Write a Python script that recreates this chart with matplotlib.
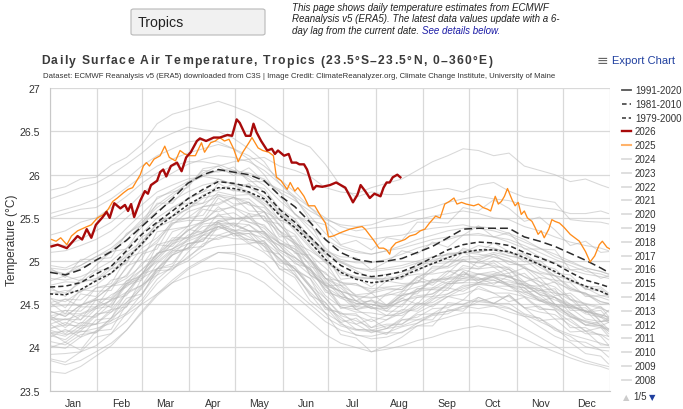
import matplotlib
matplotlib.use('Agg')
import matplotlib.pyplot as plt
from matplotlib.lines import Line2D
from matplotlib.patches import FancyBboxPatch
from matplotlib.font_manager import FontProperties

plt.rcParams['font.family'] = ['Liberation Sans', 'DejaVu Sans']

# ---------------- data ----------------
grid_days = [0, 10, 20, 30, 40, 50, 60, 70, 80, 90, 100, 110, 120, 130, 140, 150, 160, 170, 180,
             190, 200, 210, 220, 230, 240, 250, 260, 270, 280, 290, 300, 310, 320, 330, 340, 350, 360, 365]

clim_1991_2020 = [24.87, 24.84, 24.90, 25.01, 25.11, 25.24, 25.40, 25.56, 25.72, 25.90, 26.00, 26.06, 26.03,
                  26.00, 25.93, 25.76, 25.63, 25.45, 25.25, 25.10, 25.02, 24.99, 25.00, 25.03, 25.10, 25.17,
                  25.27, 25.37, 25.38, 25.38, 25.38, 25.28, 25.23, 25.17, 25.09, 25.01, 24.92, 24.87]
clim_1981_2010 = [24.70, 24.71, 24.75, 24.85, 24.94, 25.12, 25.31, 25.45, 25.58, 25.72, 25.83, 25.92, 25.90,
                  25.86, 25.80, 25.60, 25.45, 25.28, 25.10, 24.95, 24.86, 24.82, 24.84, 24.88, 24.95, 25.04,
                  25.13, 25.19, 25.22, 25.21, 25.18, 25.10, 25.04, 24.97, 24.87, 24.78, 24.73, 24.70]
clim_1979_2000 = [24.62, 24.61, 24.67, 24.77, 24.86, 25.02, 25.20, 25.39, 25.52, 25.65, 25.75, 25.85, 25.84,
                  25.80, 25.72, 25.53, 25.39, 25.22, 25.02, 24.87, 24.79, 24.75, 24.77, 24.82, 24.90, 24.97,
                  25.04, 25.10, 25.13, 25.13, 25.11, 25.04, 24.96, 24.88, 24.78, 24.71, 24.65, 24.61]

days_2026 = [1, 5, 11, 15, 18, 21, 24, 27, 30, 34, 37, 39, 42, 46, 49, 51, 53, 55, 59, 62, 64, 66, 70, 72,
             74, 76, 79, 83, 86, 89, 92, 96, 98, 102, 107, 111, 116, 119, 122, 124, 128, 131, 133, 135, 138,
             142, 145, 147, 149, 153, 156, 158, 161, 163, 166, 168, 170, 172, 174, 178, 183, 187, 193, 196,
             198, 201, 203, 206, 209, 212, 216, 218, 220, 222, 224, 227, 229]
temp_2026 = [25.17, 25.19, 25.15, 25.23, 25.29, 25.25, 25.37, 25.27, 25.42, 25.50, 25.57, 25.50, 25.67,
             25.61, 25.65, 25.58, 25.66, 25.51, 25.70, 25.81, 25.78, 25.88, 25.93, 26.03, 26.06, 25.98,
             26.10, 26.14, 26.04, 26.20, 26.26, 26.39, 26.42, 26.39, 26.43, 26.43, 26.46, 26.45, 26.64,
             26.60, 26.45, 26.45, 26.59, 26.49, 26.39, 26.28, 26.30, 26.24, 26.28, 26.22, 26.24, 26.14,
             26.14, 26.12, 26.12, 26.06, 25.95, 25.83, 25.87, 25.86, 25.88, 25.91, 25.85, 25.75, 25.68,
             25.77, 25.88, 25.81, 25.73, 25.78, 25.75, 25.85, 25.91, 25.91, 25.97, 26.00, 25.97]

days_2025 = [1, 4, 7, 11, 14, 18, 23, 27, 31, 35, 38, 41, 44, 48, 51, 54, 56, 59, 61, 63, 65, 68, 72, 75,
             78, 82, 85, 88, 91, 95, 99, 101, 105, 108, 111, 114, 117, 120, 123, 126, 130, 132, 134, 136,
             139, 143, 146, 148, 151, 155, 157, 160, 162, 166, 169, 173, 177, 180, 182, 185, 190, 193, 196,
             201, 204, 206, 209, 212, 215, 218, 220, 222, 223, 226, 229, 232, 235, 239, 242, 245, 248, 252,
             255, 258, 261, 264, 266, 269, 272, 277, 280, 283, 286, 288, 291, 293, 295, 297, 299, 302, 304,
             306, 308, 310, 312, 315, 317, 319, 321, 323, 326, 328, 330, 333, 336, 340, 343, 346, 350, 353,
             356, 359, 361, 364, 366]
temp_2025 = [25.25, 25.23, 25.27, 25.19, 25.29, 25.35, 25.39, 25.42, 25.50, 25.54, 25.60, 25.69, 25.73,
             25.79, 25.83, 25.85, 25.91, 26.00, 26.10, 26.14, 26.10, 26.18, 26.22, 26.33, 26.20, 26.16,
             26.28, 26.24, 26.22, 26.22, 26.37, 26.26, 26.37, 26.39, 26.43, 26.39, 26.41, 26.30, 26.15,
             26.26, 26.37, 26.43, 26.37, 26.31, 26.28, 26.26, 26.22, 25.97, 25.93, 25.83, 25.91, 25.81,
             25.85, 25.75, 25.64, 25.64, 25.52, 25.44, 25.28, 25.29, 25.33, 25.35, 25.37, 25.39, 25.40,
             25.37, 25.30, 25.23, 25.15, 25.15, 25.13, 25.08, 25.15, 25.21, 25.23, 25.25, 25.29, 25.31,
             25.35, 25.37, 25.44, 25.52, 25.50, 25.66, 25.69, 25.73, 25.66, 25.68, 25.66, 25.64, 25.66,
             25.62, 25.60, 25.58, 25.75, 25.66, 25.69, 25.75, 25.84, 25.71, 25.64, 25.68, 25.54, 25.58,
             25.50, 25.46, 25.39, 25.31, 25.35, 25.27, 25.37, 25.48, 25.46, 25.44, 25.39, 25.31, 25.27,
             25.23, 25.11, 24.99, 25.06, 25.19, 25.23, 25.16, 25.14]

gray_01 = [25.82, 25.86, 25.95, 25.97, 26.11, 26.20, 26.35, 26.59, 26.70, 26.75, 26.80, 26.85, 26.79, 26.72, 26.62, 26.48, 26.39, 26.32, 26.12, 25.87, 25.74, 25.80, 25.77, 25.77, 25.80, 25.82, 25.84, 25.80, 25.88, 25.91, 25.81, 25.74, 25.71, 25.68, 25.48, 25.46, 25.45, 25.43]
gray_02 = [24.88, 24.85, 24.95, 25.05, 25.12, 25.30, 25.45, 25.62, 25.75, 25.90, 26.02, 26.10, 26.15, 26.18, 26.20, 26.10, 26.05, 25.98, 25.85, 25.80, 25.78, 25.85, 25.90, 25.95, 26.05, 26.15, 26.22, 26.30, 26.28, 26.22, 26.25, 26.10, 26.05, 26.00, 25.92, 25.95, 25.88, 25.85]
gray_03 = [25.50, 25.55, 25.60, 25.62, 25.72, 25.85, 25.98, 26.10, 26.18, 26.25, 26.30, 26.35, 26.30, 26.22, 26.10, 25.95, 25.80, 25.62, 25.45, 25.32, 25.28, 25.25, 25.28, 25.30, 25.35, 25.38, 25.40, 25.42, 25.38, 25.35, 25.30, 25.22, 25.15, 25.05, 24.98, 24.92, 24.88, 24.85]
gray_04 = [25.72, 25.78, 25.85, 25.90, 26.00, 26.12, 26.25, 26.40, 26.48, 26.55, 26.52, 26.50, 26.42, 26.30, 26.15, 25.90, 25.72, 25.52, 25.32, 25.18, 25.12, 25.08, 25.12, 25.18, 25.25, 25.30, 25.35, 25.38, 25.40, 25.38, 25.32, 25.25, 25.15, 25.08, 25.00, 24.92, 24.88, 24.85]
gray_05 = [25.20, 25.18, 25.25, 25.35, 25.45, 25.60, 25.78, 25.92, 26.02, 26.12, 26.18, 26.22, 26.20, 26.15, 26.05, 25.90, 25.75, 25.62, 25.50, 25.40, 25.35, 25.38, 25.40, 25.42, 25.48, 25.52, 25.55, 25.58, 25.55, 25.50, 25.48, 25.40, 25.35, 25.28, 25.22, 25.18, 25.15, 25.12]
gray_06 = [25.55, 25.60, 25.65, 25.72, 25.82, 25.95, 26.10, 26.22, 26.30, 26.38, 26.40, 26.38, 26.30, 26.18, 26.00, 25.75, 25.55, 25.35, 25.15, 25.00, 24.92, 24.88, 24.90, 24.92, 24.98, 25.00, 25.02, 25.00, 24.98, 24.95, 24.90, 24.82, 24.72, 24.65, 24.55, 24.50, 24.45, 24.42]
gray_07 = [25.30, 25.35, 25.45, 25.50, 25.62, 25.75, 25.90, 26.02, 26.10, 26.15, 26.15, 26.12, 26.05, 25.95, 25.80, 25.55, 25.35, 25.15, 24.98, 24.88, 24.82, 24.80, 24.80, 24.82, 24.85, 24.85, 24.88, 24.90, 24.85, 24.82, 24.78, 24.72, 24.62, 24.55, 24.48, 24.42, 24.38, 24.35]
gray_08 = [24.95, 24.92, 25.00, 25.10, 25.20, 25.38, 25.55, 25.72, 25.82, 25.92, 26.00, 26.05, 26.02, 25.98, 25.88, 25.70, 25.55, 25.40, 25.25, 25.15, 25.10, 25.08, 25.12, 25.15, 25.20, 25.25, 25.28, 25.30, 25.32, 25.28, 25.22, 25.15, 25.05, 24.98, 24.90, 24.85, 24.82, 24.80]
gray_09 = [24.92, 24.90, 24.95, 25.05, 25.15, 25.30, 25.48, 25.65, 25.78, 25.90, 25.98, 26.05, 26.05, 26.02, 25.95, 25.80, 25.70, 25.58, 25.48, 25.42, 25.40, 25.42, 25.48, 25.52, 25.58, 25.62, 25.68, 25.72, 25.75, 25.72, 25.70, 25.65, 25.62, 25.60, 25.55, 25.55, 25.58, 25.55]
gray_10 = [24.90, 24.85, 24.92, 25.00, 25.10, 25.25, 25.42, 25.58, 25.70, 25.80, 25.88, 25.92, 25.90, 25.85, 25.75, 25.58, 25.42, 25.25, 25.08, 24.98, 24.92, 24.90, 24.92, 24.95, 25.00, 25.05, 25.08, 25.10, 25.08, 25.05, 25.00, 24.92, 24.85, 24.75, 24.68, 24.62, 24.58, 24.55]
gray_11 = [24.80, 24.78, 24.82, 24.90, 25.00, 25.15, 25.32, 25.50, 25.62, 25.72, 25.80, 25.85, 25.82, 25.78, 25.70, 25.55, 25.42, 25.28, 25.12, 25.02, 24.98, 24.98, 25.02, 25.08, 25.15, 25.20, 25.25, 25.30, 25.30, 25.28, 25.25, 25.18, 25.10, 25.02, 24.95, 24.88, 24.85, 24.82]
gray_12 = [24.35, 24.32, 24.38, 24.45, 24.55, 24.72, 24.90, 25.08, 25.22, 25.35, 25.45, 25.52, 25.50, 25.45, 25.38, 25.20, 25.05, 24.90, 24.75, 24.65, 24.60, 24.58, 24.60, 24.65, 24.70, 24.75, 24.80, 24.85, 24.85, 24.85, 24.82, 24.75, 24.68, 24.58, 24.48, 24.42, 24.38, 24.35]
gray_13 = [25.10, 25.12, 25.18, 25.25, 25.35, 25.50, 25.65, 25.80, 25.88, 25.95, 25.98, 25.95, 25.88, 25.78, 25.65, 25.42, 25.22, 25.02, 24.85, 24.75, 24.72, 24.68, 24.70, 24.72, 24.75, 24.78, 24.80, 24.82, 24.80, 24.78, 24.72, 24.62, 24.55, 24.45, 24.35, 24.30, 24.25, 24.22]
gray_14 = [23.85, 23.80, 23.85, 23.95, 24.05, 24.20, 24.40, 24.60, 24.75, 24.90, 25.00, 25.10, 25.10, 25.05, 24.98, 24.80, 24.65, 24.50, 24.35, 24.25, 24.20, 24.18, 24.22, 24.25, 24.32, 24.38, 24.42, 24.48, 24.50, 24.48, 24.45, 24.38, 24.30, 24.22, 24.15, 24.10, 24.05, 24.02]
gray_15 = [23.72, 23.70, 23.78, 23.90, 24.02, 24.20, 24.42, 24.62, 24.78, 24.92, 25.02, 25.10, 25.08, 25.02, 24.92, 24.75, 24.60, 24.45, 24.30, 24.20, 24.15, 24.10, 24.12, 24.18, 24.25, 24.30, 24.35, 24.40, 24.40, 24.38, 24.32, 24.22, 24.12, 24.02, 23.92, 23.85, 23.80, 23.78]
gray_16 = [24.20, 24.15, 24.18, 24.22, 24.28, 24.38, 24.50, 24.62, 24.75, 24.82, 24.88, 24.92, 24.90, 24.85, 24.75, 24.60, 24.45, 24.30, 24.15, 24.05, 24.00, 23.95, 23.98, 24.02, 24.08, 24.12, 24.18, 24.22, 24.25, 24.22, 24.18, 24.10, 24.02, 23.95, 23.88, 23.82, 23.78, 23.75]
gray_17 = [24.42, 24.36, 24.49, 24.55, 24.56, 24.74, 24.85, 25.09, 25.14, 25.25, 25.40, 25.43, 25.44, 25.35, 25.34, 25.13, 25.04, 24.92, 24.70, 24.59, 24.54, 24.45, 24.49, 24.60, 24.65, 24.67, 24.76, 24.78, 24.78, 24.83, 24.83, 24.72, 24.66, 24.63, 24.50, 24.41, 24.37, 24.31]
gray_18 = [24.17, 24.13, 24.25, 24.27, 24.41, 24.52, 24.72, 24.87, 25.07, 25.15, 25.30, 25.37, 25.42, 25.35, 25.34, 25.13, 25.04, 24.90, 24.67, 24.57, 24.51, 24.50, 24.47, 24.60, 24.65, 24.77, 24.82, 24.92, 24.91, 24.93, 24.93, 24.82, 24.76, 24.70, 24.56, 24.51, 24.47, 24.41]
gray_19 = [24.52, 24.56, 24.55, 24.69, 24.71, 24.92, 25.15, 25.27, 25.44, 25.50, 25.63, 25.67, 25.74, 25.65, 25.62, 25.41, 25.31, 25.07, 24.92, 24.75, 24.74, 24.65, 24.69, 24.67, 24.80, 24.92, 24.92, 25.00, 24.98, 25.05, 24.99, 24.94, 24.81, 24.78, 24.66, 24.63, 24.50, 24.51]
gray_20 = [24.32, 24.33, 24.32, 24.47, 24.54, 24.64, 24.85, 24.99, 25.14, 25.23, 25.30, 25.45, 25.36, 25.35, 25.22, 25.08, 24.91, 24.70, 24.52, 24.32, 24.27, 24.17, 24.22, 24.32, 24.35, 24.45, 24.46, 24.55, 24.53, 24.58, 24.59, 24.46, 24.41, 24.38, 24.26, 24.16, 24.15, 24.09]
gray_21 = [24.02, 23.99, 24.12, 24.19, 24.34, 24.47, 24.70, 24.91, 25.07, 25.25, 25.33, 25.47, 25.49, 25.50, 25.40, 25.25, 25.14, 25.02, 24.80, 24.72, 24.61, 24.63, 24.67, 24.67, 24.82, 24.87, 24.99, 25.02, 25.03, 25.08, 25.03, 24.92, 24.86, 24.83, 24.70, 24.61, 24.53, 24.51]
gray_22 = [24.22, 24.26, 24.25, 24.39, 24.41, 24.62, 24.72, 24.97, 25.12, 25.20, 25.25, 25.40, 25.32, 25.32, 25.27, 25.11, 24.99, 24.84, 24.60, 24.47, 24.44, 24.35, 24.32, 24.40, 24.50, 24.52, 24.62, 24.72, 24.73, 24.71, 24.66, 24.64, 24.58, 24.46, 24.38, 24.26, 24.23, 24.21]
gray_23 = [24.40, 24.43, 24.42, 24.57, 24.71, 24.84, 25.08, 25.24, 25.42, 25.57, 25.63, 25.80, 25.76, 25.77, 25.64, 25.48, 25.39, 25.17, 25.00, 24.90, 24.79, 24.80, 24.79, 24.79, 24.95, 25.05, 25.07, 25.10, 25.18, 25.15, 25.09, 25.09, 24.96, 24.91, 24.76, 24.71, 24.70, 24.63]
gray_24 = [24.14, 24.09, 24.22, 24.27, 24.31, 24.52, 24.68, 24.91, 25.07, 25.15, 25.33, 25.40, 25.44, 25.42, 25.30, 25.18, 25.01, 24.90, 24.67, 24.47, 24.41, 24.40, 24.37, 24.40, 24.45, 24.57, 24.59, 24.62, 24.68, 24.63, 24.63, 24.59, 24.46, 24.43, 24.30, 24.19, 24.15, 24.13]
gray_25 = [24.67, 24.63, 24.75, 24.80, 24.86, 25.07, 25.18, 25.39, 25.47, 25.62, 25.67, 25.75, 25.72, 25.72, 25.57, 25.35, 25.24, 25.02, 24.80, 24.69, 24.54, 24.53, 24.49, 24.57, 24.68, 24.69, 24.79, 24.80, 24.85, 24.88, 24.81, 24.76, 24.64, 24.58, 24.50, 24.39, 24.35, 24.33]
gray_26 = [24.27, 24.33, 24.27, 24.45, 24.48, 24.72, 24.78, 25.04, 25.24, 25.27, 25.43, 25.45, 25.49, 25.50, 25.34, 25.21, 25.11, 24.87, 24.72, 24.49, 24.47, 24.47, 24.42, 24.42, 24.58, 24.59, 24.74, 24.75, 24.85, 24.81, 24.73, 24.74, 24.61, 24.48, 24.46, 24.33, 24.30, 24.31]
gray_27 = [24.07, 24.03, 24.15, 24.17, 24.31, 24.40, 24.62, 24.84, 24.92, 25.00, 25.13, 25.17, 25.19, 25.20, 25.10, 24.95, 24.84, 24.62, 24.40, 24.29, 24.14, 24.13, 24.17, 24.17, 24.28, 24.39, 24.42, 24.45, 24.53, 24.51, 24.46, 24.36, 24.34, 24.23, 24.08, 24.06, 23.97, 23.96]
gray_28 = [24.47, 24.49, 24.49, 24.57, 24.71, 24.80, 24.95, 25.19, 25.24, 25.40, 25.45, 25.53, 25.56, 25.45, 25.42, 25.21, 25.11, 24.97, 24.72, 24.65, 24.59, 24.57, 24.62, 24.70, 24.75, 24.89, 24.94, 25.05, 25.05, 25.10, 25.06, 25.04, 24.93, 24.83, 24.78, 24.69, 24.60, 24.58]
gray_29 = [23.92, 23.93, 23.95, 24.12, 24.16, 24.40, 24.55, 24.79, 24.94, 25.03, 25.20, 25.27, 25.32, 25.25, 25.22, 25.01, 24.91, 24.72, 24.57, 24.39, 24.37, 24.30, 24.37, 24.37, 24.48, 24.59, 24.62, 24.70, 24.75, 24.71, 24.71, 24.59, 24.54, 24.50, 24.36, 24.26, 24.25, 24.19]
gray_30 = [24.37, 24.39, 24.39, 24.47, 24.61, 24.70, 24.85, 25.09, 25.14, 25.30, 25.35, 25.47, 25.42, 25.35, 25.32, 25.08, 24.91, 24.80, 24.57, 24.37, 24.31, 24.23, 24.27, 24.27, 24.38, 24.39, 24.49, 24.50, 24.55, 24.51, 24.51, 24.39, 24.34, 24.20, 24.13, 24.01, 23.97, 23.89]
gray_31 = [24.57, 24.53, 24.65, 24.72, 24.86, 24.99, 25.22, 25.44, 25.52, 25.73, 25.80, 25.95, 25.89, 25.88, 25.84, 25.61, 25.49, 25.27, 25.10, 24.99, 24.89, 24.80, 24.85, 24.87, 24.92, 25.02, 25.04, 25.13, 25.11, 25.13, 25.06, 25.02, 24.88, 24.83, 24.68, 24.63, 24.53, 24.51]
gray_32 = [24.17, 24.19, 24.19, 24.37, 24.44, 24.64, 24.85, 25.01, 25.20, 25.35, 25.47, 25.60, 25.62, 25.55, 25.52, 25.31, 25.21, 25.02, 24.80, 24.62, 24.51, 24.50, 24.47, 24.54, 24.58, 24.62, 24.74, 24.75, 24.75, 24.78, 24.71, 24.66, 24.54, 24.48, 24.40, 24.29, 24.25, 24.16]
gray_33 = [24.72, 24.76, 24.75, 24.89, 24.91, 25.10, 25.22, 25.44, 25.52, 25.60, 25.73, 25.77, 25.74, 25.68, 25.57, 25.35, 25.19, 25.00, 24.77, 24.59, 24.54, 24.45, 24.45, 24.54, 24.60, 24.62, 24.72, 24.80, 24.78, 24.81, 24.73, 24.69, 24.56, 24.50, 24.36, 24.31, 24.27, 24.19]
gray_34 = [23.87, 23.83, 23.95, 24.02, 24.16, 24.30, 24.52, 24.74, 24.90, 25.05, 25.17, 25.30, 25.26, 25.25, 25.20, 25.03, 24.91, 24.70, 24.47, 24.35, 24.21, 24.20, 24.17, 24.24, 24.28, 24.37, 24.39, 24.48, 24.45, 24.48, 24.41, 24.36, 24.24, 24.13, 24.06, 23.93, 23.90, 23.81]
gray_35 = [24.42, 24.36, 24.49, 24.55, 24.58, 24.77, 24.90, 25.04, 25.20, 25.27, 25.33, 25.40, 25.36, 25.28, 25.17, 25.03, 24.84, 24.64, 24.47, 24.27, 24.21, 24.20, 24.25, 24.27, 24.40, 24.49, 24.59, 24.68, 24.73, 24.75, 24.76, 24.72, 24.61, 24.58, 24.46, 24.43, 24.35, 24.29]
gray_36 = [24.62, 24.66, 24.64, 24.79, 24.94, 25.05, 25.18, 25.44, 25.52, 25.60, 25.77, 25.82, 25.89, 25.80, 25.67, 25.56, 25.37, 25.27, 25.02, 24.84, 24.81, 24.80, 24.77, 24.85, 24.88, 24.99, 25.09, 25.10, 25.10, 25.15, 25.09, 25.07, 24.96, 24.83, 24.80, 24.68, 24.65, 24.59]
gray_37 = [24.32, 24.43, 24.32, 24.55, 24.46, 24.77, 24.82, 25.19, 25.17, 25.37, 25.33, 25.55, 25.39, 25.55, 25.32, 25.21, 25.17, 24.84, 24.74, 24.45, 24.49, 24.55, 24.42, 24.57, 24.50, 24.69, 24.69, 24.88, 24.75, 24.83, 24.86, 24.64, 24.66, 24.68, 24.43, 24.43, 24.25, 24.29]
gray_38 = [24.52, 24.39, 24.62, 24.59, 24.78, 24.82, 25.08, 25.14, 25.44, 25.47, 25.47, 25.73, 25.62, 25.50, 25.57, 25.28, 25.29, 25.02, 24.72, 24.72, 24.54, 24.63, 24.49, 24.64, 24.82, 24.75, 24.89, 24.82, 25.01, 24.93, 24.81, 24.86, 24.71, 24.76, 24.56, 24.41, 24.47, 24.36]
gray_39 = [24.12, 24.21, 24.12, 24.32, 24.34, 24.64, 24.72, 24.84, 25.10, 25.15, 25.17, 25.40, 25.32, 25.20, 25.24, 24.98, 24.94, 24.72, 24.44, 24.41, 24.27, 24.33, 24.22, 24.34, 24.52, 24.47, 24.59, 24.55, 24.71, 24.63, 24.53, 24.58, 24.44, 24.44, 24.23, 24.23, 24.13, 24.03]
gray_40 = [24.37, 24.26, 24.47, 24.47, 24.71, 24.74, 24.98, 25.07, 25.34, 25.40, 25.60, 25.57, 25.64, 25.68, 25.47, 25.35, 25.09, 25.07, 24.80, 24.77, 24.59, 24.47, 24.62, 24.60, 24.78, 24.72, 24.86, 25.02, 24.93, 24.98, 24.86, 24.92, 24.76, 24.60, 24.63, 24.49, 24.35, 24.43]
gray_41 = [24.27, 24.16, 24.29, 24.27, 24.44, 24.47, 24.80, 24.91, 24.94, 25.20, 25.23, 25.45, 25.29, 25.32, 25.12, 25.08, 24.87, 24.60, 24.52, 24.29, 24.34, 24.20, 24.15, 24.32, 24.32, 24.32, 24.52, 24.50, 24.58, 24.51, 24.61, 24.46, 24.31, 24.33, 24.18, 24.19, 24.03, 24.03]
gray_42 = [24.00, 24.06, 23.97, 24.19, 24.21, 24.50, 24.60, 24.91, 24.97, 25.20, 25.23, 25.43, 25.34, 25.42, 25.27, 25.18, 24.97, 24.92, 24.64, 24.59, 24.44, 24.50, 24.45, 24.62, 24.62, 24.79, 24.79, 24.95, 24.91, 25.01, 24.91, 24.76, 24.81, 24.63, 24.60, 24.41, 24.43, 24.33]
gray_43 = [24.47, 24.56, 24.47, 24.69, 24.74, 25.04, 25.10, 25.21, 25.47, 25.50, 25.53, 25.77, 25.66, 25.68, 25.47, 25.43, 25.19, 24.94, 24.87, 24.65, 24.47, 24.55, 24.49, 24.47, 24.68, 24.67, 24.66, 24.85, 24.81, 24.73, 24.83, 24.69, 24.54, 24.58, 24.40, 24.26, 24.30, 24.21]
gray_44 = [24.17, 24.06, 24.19, 24.17, 24.34, 24.57, 24.62, 24.89, 24.90, 25.10, 25.27, 25.25, 25.32, 25.35, 25.17, 24.91, 24.89, 24.80, 24.47, 24.39, 24.39, 24.23, 24.32, 24.44, 24.42, 24.55, 24.69, 24.65, 24.75, 24.83, 24.71, 24.69, 24.68, 24.50, 24.46, 24.46, 24.30, 24.31]
gray_45 = [24.77, 24.83, 24.77, 24.95, 25.11, 25.14, 25.40, 25.67, 25.67, 25.87, 26.05, 26.03, 26.09, 25.92, 25.92, 25.81, 25.54, 25.44, 25.12, 25.05, 25.04, 24.90, 24.99, 25.12, 25.08, 25.22, 25.16, 25.30, 25.41, 25.28, 25.33, 25.14, 25.14, 25.13, 24.90, 24.91, 24.80, 24.83]
gray_46 = [24.92, 24.81, 25.02, 25.02, 25.04, 25.32, 25.42, 25.74, 25.80, 25.85, 26.07, 26.10, 25.99, 26.08, 25.92, 25.83, 25.74, 25.47, 25.42, 25.19, 25.24, 25.13, 25.27, 25.24, 25.45, 25.45, 25.44, 25.62, 25.58, 25.71, 25.61, 25.46, 25.51, 25.36, 25.18, 25.23, 25.10, 25.11]
gray_47 = [24.70, 24.59, 24.79, 24.77, 24.91, 24.97, 25.28, 25.37, 25.62, 25.67, 25.67, 25.90, 25.81, 25.90, 25.72, 25.47, 25.47, 25.20, 25.07, 24.79, 24.81, 24.70, 24.82, 24.80, 24.98, 24.97, 24.98, 25.15, 25.10, 25.21, 25.11, 24.99, 25.01, 24.86, 24.84, 24.67, 24.68, 24.61]
gray_48 = [24.22, 24.29, 24.22, 24.39, 24.56, 24.60, 24.85, 24.91, 25.12, 25.13, 25.30, 25.30, 25.36, 25.22, 25.20, 24.91, 24.81, 24.54, 24.40, 24.15, 24.11, 23.95, 24.02, 24.12, 24.25, 24.25, 24.44, 24.42, 24.58, 24.51, 24.61, 24.46, 24.48, 24.33, 24.33, 24.19, 24.23, 24.13]
gray_49 = [24.57, 24.46, 24.67, 24.65, 24.66, 24.94, 25.02, 25.34, 25.37, 25.40, 25.63, 25.65, 25.74, 25.58, 25.57, 25.48, 25.21, 25.12, 25.00, 24.72, 24.74, 24.63, 24.77, 24.74, 24.75, 24.94, 24.94, 25.10, 25.01, 25.08, 24.96, 24.96, 24.98, 24.78, 24.75, 24.59, 24.60, 24.61]
gray_50 = [24.34, 24.23, 24.37, 24.35, 24.51, 24.74, 24.80, 25.07, 25.27, 25.27, 25.45, 25.63, 25.49, 25.52, 25.52, 25.21, 25.14, 24.84, 24.72, 24.65, 24.44, 24.47, 24.37, 24.50, 24.65, 24.79, 24.74, 24.88, 24.78, 24.85, 24.91, 24.72, 24.71, 24.50, 24.48, 24.49, 24.30, 24.33]

gray_years = [gray_01, gray_02, gray_03, gray_04, gray_05, gray_06, gray_07, gray_08, gray_09, gray_10,
              gray_11, gray_12, gray_13, gray_14, gray_15, gray_16, gray_17, gray_18, gray_19, gray_20,
              gray_21, gray_22, gray_23, gray_24, gray_25, gray_26, gray_27, gray_28, gray_29, gray_30,
              gray_31, gray_32, gray_33, gray_34, gray_35, gray_36, gray_37, gray_38, gray_39, gray_40,
              gray_41, gray_42, gray_43, gray_44, gray_45, gray_46, gray_47, gray_48, gray_49, gray_50]

month_labels = ['Jan', 'Feb', 'Mar', 'Apr', 'May', 'Jun', 'Jul', 'Aug', 'Sep', 'Oct', 'Nov', 'Dec']
month_starts = [0, 31, 60, 91, 121, 152, 182, 213, 244, 274, 305, 335, 366]
y_ticks = [23.5, 24, 24.5, 25, 25.5, 26, 26.5, 27]
y_tick_labels = ['23.5', '24', '24.5', '25', '25.5', '26', '26.5', '27']
legend_clim = ['1991-2020', '1981-2010', '1979-2000']
legend_years = ['2026', '2025', '2024', '2023', '2022', '2021', '2020', '2019', '2018', '2017', '2016',
                '2015', '2014', '2013', '2012', '2011', '2010', '2009', '2008']

# ---------------- figure ----------------
W, H = 683, 410
fig = plt.figure(figsize=(W / 100, H / 100), dpi=100)
fig.patch.set_facecolor('white')

def fx(px):
    return px / W

def fy(py):
    return 1 - py / H

ax = fig.add_axes([fx(50), fy(391.7), fx(610) - fx(50), fy(89.3) - fy(391.7)])
ax.set_xlim(0, 366)
ax.set_ylim(23.5, 27)

GRID = '#d9d9d9'
for yv in y_ticks:
    ax.axhline(yv, color=GRID, lw=0.9, zorder=0)
for d in month_starts:
    ax.axvline(d, color=GRID, lw=0.9, zorder=0)

for series in gray_years:
    ax.plot(grid_days, series, color='#b8b8b8', lw=0.75, alpha=0.55, zorder=1)

ax.plot(grid_days, clim_1979_2000, color='#2b2b2b', lw=1.1, dashes=(2.0, 1.4), zorder=3)
ax.plot(grid_days, clim_1981_2010, color='#2b2b2b', lw=1.1, dashes=(3.4, 2.0), zorder=3)
ax.plot(grid_days, clim_1991_2020, color='#2b2b2b', lw=1.1, dashes=(5.2, 2.6), zorder=3)
ax.plot(days_2025, temp_2025, color='#ff8c1a', lw=0.95, zorder=4)
ax.plot(days_2026, temp_2026, color='#a80a0a', lw=1.7, zorder=5)

for s in ['top', 'right']:
    ax.spines[s].set_visible(False)
ax.spines['left'].set_color('#c8c8c8')
ax.spines['bottom'].set_color('#c8c8c8')

ax.set_yticks(y_ticks)
ax.set_yticklabels(y_tick_labels)
ax.set_xticks(month_starts)
ax.set_xticklabels([''] * len(month_starts))
ax.set_xticks([m + 15.5 for m in month_starts[:-1]], minor=True)
ax.set_xticklabels(month_labels, minor=True)
ax.tick_params(axis='both', which='both', length=0, colors='#333333', labelsize=7.6)
ax.tick_params(axis='y', pad=7)
ax.tick_params(axis='x', which='minor', pad=5)
fig.text(fx(12), fy(240), 'Temperature (°C)', rotation=90, color='#333333', fontsize=8.6,
         va='center', ha='center')

# ---------------- legend ----------------
leg_styles = [
    dict(color='#555555', lw=1.3),
    dict(color='#333333', lw=1.1, dashes=(3.0, 2.0, 1.0, 2.0)),
    dict(color='#333333', lw=1.1, dashes=(2.6, 1.8)),
    dict(color='#a80a0a', lw=1.7),
    dict(color='#ffb36b', lw=1.5),
]
labels = legend_clim + legend_years
for i, lab in enumerate(labels):
    ypx = 91 + i * 13.8
    style = leg_styles[i] if i < len(leg_styles) else dict(color='#dcdcdc', lw=1.3)
    fig.add_artist(Line2D([fx(622), fx(631)], [fy(ypx), fy(ypx)], transform=fig.transFigure, **style))
    fig.text(fx(635), fy(ypx), lab, fontsize=7.0, color='#333333', va='center', ha='left')

fig.text(fx(626), fy(397.5), '\u25B2', fontsize=6, color='#cccccc', va='center', ha='center',
         family=['DejaVu Sans'])
fig.text(fx(633), fy(397), '1/5', fontsize=7.0, color='#333333', va='center', ha='left')
fig.text(fx(652), fy(397.5), '\u25BC', fontsize=6, color='#1f3f9f', va='center', ha='center',
         family=['DejaVu Sans'])

# ---------------- header ----------------
renderer = fig.canvas.get_renderer()


def spaced_text(x0, x1, y_base, s, size, weight, color):
    fp = FontProperties(family=['Liberation Sans', 'DejaVu Sans'], size=size, weight=weight)
    widths = [renderer.get_text_width_height_descent(ch, fp, ismath=False)[0] for ch in s]
    gap = (x1 - x0 - sum(widths)) / (len(s) - 1)
    x = x0
    for ch, w in zip(s, widths):
        fig.text(fx(x), fy(y_base), ch, fontproperties=fp, color=color, va='baseline', ha='left')
        x += w + gap


spaced_text(41, 492, 64.5, 'Daily Surface Air Temperature, Tropics (23.5°S–23.5°N, 0–360°E)',
            8.7, 'bold', '#3a3a3a')
fig.text(fx(43), fy(76.5), 'Dataset: ECMWF Reanalysis v5 (ERA5) downloaded from C3S | Image Credit: '
         'ClimateReanalyzer.org, Climate Change Institute, University of Maine',
         fontsize=5.6, color='#333333', va='center', ha='left')

fig.text(fx(597), fy(61), '\u2261', fontsize=10, color='#666666', va='center', ha='left',
         family=['DejaVu Sans'])
fig.text(fx(612), fy(61), 'Export Chart', fontsize=8, color='#1f3f9f', va='center', ha='left')

box = FancyBboxPatch((fx(131), fy(36)), fx(265) - fx(131), fy(10) - fy(36),
                     boxstyle='round,pad=0,rounding_size=0.004', transform=fig.transFigure,
                     facecolor='#f1f1f1', edgecolor='#b8b8b8', lw=0.8)
fig.add_artist(box)
fig.text(fx(138), fy(23), 'Tropics', fontsize=10.2, color='#222222', va='center', ha='left')

info_lines = ['This page shows daily temperature estimates from ECMWF',
              'Reanalysis v5 (ERA5). The latest data values update with a 6-',
              'day lag from the current date. ']
for j, line in enumerate(info_lines):
    t = fig.text(fx(292), fy(8 + j * 11.5), line, fontsize=7.0, style='italic', color='#222222',
                 va='center', ha='left')
fig.canvas.draw()
bb = t.get_window_extent(fig.canvas.get_renderer())
fig.text(bb.x1 / W, fy(8 + 2 * 11.5), 'See details below.', fontsize=7.0, style='italic',
         color='#1a1aa6', va='center', ha='left')

fig.savefig('out.png', dpi=100)
